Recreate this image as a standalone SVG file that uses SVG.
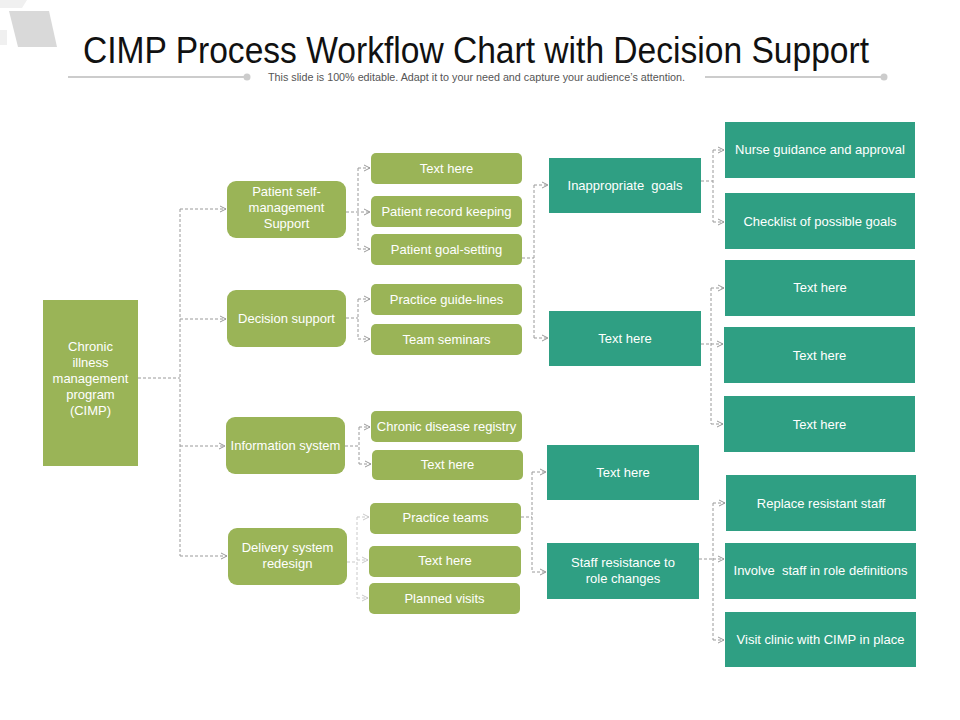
<svg xmlns="http://www.w3.org/2000/svg" width="960" height="720" viewBox="0 0 960 720">
<style>
.g{fill:#9ab457}
.t{fill:#2f9f83}
.lbl{font-family:"Liberation Sans",Arial,sans-serif;font-size:13px;fill:#ffffff;text-anchor:middle}
.c{fill:none;stroke:#9a9a9a;stroke-width:1;stroke-dasharray:3 2}
.cl{fill:none;stroke:#c9c9c9;stroke-width:1;stroke-dasharray:3 2}
.pre{white-space:pre}
</style>
<defs>
<marker id="ar" markerUnits="userSpaceOnUse" markerWidth="8" markerHeight="8" refX="7" refY="4" orient="auto">
<path d="M1,1 L7,4 L1,7" fill="none" stroke="#9a9a9a" stroke-width="1"/>
</marker>
<marker id="arl" markerUnits="userSpaceOnUse" markerWidth="8" markerHeight="8" refX="7" refY="4" orient="auto">
<path d="M1,1 L7,4 L1,7" fill="none" stroke="#c9c9c9" stroke-width="1"/>
</marker>
</defs>
<rect width="960" height="720" fill="#ffffff"/>
<g id="decor">
<polygon points="0,0 27,0 22,8 0,8" fill="#f0f0f0"/>
<polygon points="0,30 7,30 7,45 0,45" fill="#f0f0f0"/>
<polygon points="9,11 49,11 57,47 18,47" fill="#d9d9d9"/>
</g>
<g id="title">
<text x="476" y="63" font-family="'Liberation Sans',Arial,sans-serif" font-size="36" fill="#111111" text-anchor="middle" textLength="786" lengthAdjust="spacingAndGlyphs">CIMP Process Workflow Chart with Decision Support</text>
<line x1="68" y1="77" x2="247" y2="77" stroke="#cccccc" stroke-width="2"/>
<circle cx="247" cy="77" r="3.5" fill="#cccccc"/>
<line x1="705" y1="77" x2="884" y2="77" stroke="#cccccc" stroke-width="2"/>
<circle cx="884" cy="77" r="3.5" fill="#cccccc"/>
<text x="476.5" y="81" font-family="'Liberation Sans',Arial,sans-serif" font-size="10.5" fill="#555555" text-anchor="middle" textLength="417" lengthAdjust="spacingAndGlyphs">This slide is 100% editable. Adapt it to your need and capture your audience’s attention.</text>
</g>
<g id="connectors">
<path class="c" d="M138,378 H180 M180,209 V556"/>
<path class="c" d="M180,209 H226" marker-end="url(#ar)"/>
<path class="c" d="M180,319 H226" marker-end="url(#ar)"/>
<path class="c" d="M180,446 H225" marker-end="url(#ar)"/>
<path class="c" d="M180,556 H227" marker-end="url(#ar)"/>
<path class="c" d="M358,168 V249"/>
<path class="c" d="M358,168 H370" marker-end="url(#ar)"/>
<path class="c" d="M346,212 H370" marker-end="url(#ar)"/>
<path class="c" d="M358,249 H370" marker-end="url(#ar)"/>
<path class="c" d="M346,318 H358 M358,299 V339"/>
<path class="c" d="M358,299 H370" marker-end="url(#ar)"/>
<path class="c" d="M358,339 H370" marker-end="url(#ar)"/>
<path class="c" d="M345,446 H359 M359,427 V464"/>
<path class="c" d="M359,427 H370" marker-end="url(#ar)"/>
<path class="c" d="M359,464 H371" marker-end="url(#ar)"/>
<path class="cl" d="M347,562 H357 M357,517 V598"/>
<path class="cl" d="M357,517 H369" marker-end="url(#arl)"/>
<path class="cl" d="M357,560 H368" marker-end="url(#arl)"/>
<path class="cl" d="M357,598 H368" marker-end="url(#arl)"/>
<path class="c" d="M522,258 H534 M534,185 V338"/>
<path class="c" d="M534,185 H548" marker-end="url(#ar)"/>
<path class="c" d="M534,338 H548" marker-end="url(#ar)"/>
<path class="c" d="M521,517 H532 M532,472 V572"/>
<path class="c" d="M532,472 H546" marker-end="url(#ar)"/>
<path class="c" d="M532,572 H546" marker-end="url(#ar)"/>
<path class="c" d="M701,181 H713 M713,150 V222"/>
<path class="c" d="M713,150 H724" marker-end="url(#ar)"/>
<path class="c" d="M713,222 H724" marker-end="url(#ar)"/>
<path class="c" d="M701,344 H711 M711,288 V424"/>
<path class="c" d="M711,288 H724" marker-end="url(#ar)"/>
<path class="c" d="M711,344 H723" marker-end="url(#ar)"/>
<path class="c" d="M711,424 H723" marker-end="url(#ar)"/>
<path class="c" d="M699,559 H713 M713,503 V640"/>
<path class="c" d="M713,503 H725" marker-end="url(#ar)"/>
<path class="c" d="M713,559 H724" marker-end="url(#ar)"/>
<path class="c" d="M713,640 H724" marker-end="url(#ar)"/>
</g>
<g id="n-root"><rect class="g" x="43" y="300" width="95" height="166"/>
<text class="lbl"><tspan x="90.5" y="351">Chronic</tspan><tspan x="90.5" y="367">illness</tspan><tspan x="90.5" y="383">management</tspan><tspan x="90.5" y="399">program</tspan><tspan x="90.5" y="415">(CIMP)</tspan></text></g>
<g id="n-psms"><rect class="g" x="227" y="181" width="119" height="57" rx="9"/>
<text class="lbl"><tspan x="286.5" y="196">Patient self-</tspan><tspan x="286.5" y="212">management</tspan><tspan x="286.5" y="228">Support</tspan></text></g>
<g id="n-ds"><rect class="g" x="227" y="290" width="119" height="57" rx="9"/>
<text class="lbl" x="286.5" y="323">Decision support</text></g>
<g id="n-is"><rect class="g" x="226" y="417" width="119" height="57" rx="9"/>
<text class="lbl" x="285.5" y="450">Information system</text></g>
<g id="n-dsr"><rect class="g" x="228" y="528" width="119" height="57" rx="9"/>
<text class="lbl"><tspan x="287.5" y="552">Delivery system</tspan><tspan x="287.5" y="568">redesign</tspan></text></g>
<g id="n-a1"><rect class="g" x="371" y="153" width="151" height="31" rx="5"/><text class="lbl" x="446.5" y="173">Text here</text></g>
<g id="n-a2"><rect class="g" x="371" y="196" width="151" height="31" rx="5"/><text class="lbl" x="446.5" y="216">Patient record keeping</text></g>
<g id="n-a3"><rect class="g" x="371" y="234" width="151" height="31" rx="5"/><text class="lbl" x="446.5" y="254">Patient goal-setting</text></g>
<g id="n-b1"><rect class="g" x="371" y="284" width="151" height="31" rx="5"/><text class="lbl" x="446.5" y="304">Practice guide-lines</text></g>
<g id="n-b2"><rect class="g" x="371" y="324" width="151" height="31" rx="5"/><text class="lbl" x="446.5" y="344">Team seminars</text></g>
<g id="n-c1"><rect class="g" x="371" y="411" width="151" height="31" rx="5"/><text class="lbl" x="446.5" y="431">Chronic disease registry</text></g>
<g id="n-c2"><rect class="g" x="372" y="450" width="151" height="30" rx="5"/><text class="lbl" x="447.5" y="469">Text here</text></g>
<g id="n-d1"><rect class="g" x="370" y="503" width="151" height="31" rx="5"/><text class="lbl" x="445.5" y="522">Practice teams</text></g>
<g id="n-d2"><rect class="g" x="369" y="546" width="152" height="31" rx="5"/><text class="lbl" x="445" y="565">Text here</text></g>
<g id="n-d3"><rect class="g" x="369" y="583" width="151" height="31" rx="5"/><text class="lbl" x="444.5" y="603">Planned visits</text></g>
<g id="n-e1"><rect class="t" x="549" y="158" width="152" height="55"/><text class="lbl pre" x="625" y="190">Inappropriate  goals</text></g>
<g id="n-e2"><rect class="t" x="549" y="311" width="152" height="55"/><text class="lbl" x="625" y="343">Text here</text></g>
<g id="n-e3"><rect class="t" x="547" y="445" width="152" height="55"/><text class="lbl" x="623" y="477">Text here</text></g>
<g id="n-e4"><rect class="t" x="547" y="543" width="152" height="56"/>
<text class="lbl"><tspan x="623" y="567">Staff resistance to</tspan><tspan x="623" y="583">role changes</tspan></text></g>
<g id="n-f1"><rect class="t" x="725" y="122" width="190" height="56"/><text class="lbl" x="820" y="154">Nurse guidance and approval</text></g>
<g id="n-f2"><rect class="t" x="725" y="193" width="190" height="56"/><text class="lbl" x="820" y="226">Checklist of possible goals</text></g>
<g id="n-f3"><rect class="t" x="725" y="260" width="190" height="56"/><text class="lbl" x="820" y="292">Text here</text></g>
<g id="n-f4"><rect class="t" x="724" y="327" width="191" height="56"/><text class="lbl" x="819.5" y="360">Text here</text></g>
<g id="n-f5"><rect class="t" x="724" y="396" width="191" height="56"/><text class="lbl" x="819.5" y="429">Text here</text></g>
<g id="n-g1"><rect class="t" x="726" y="475" width="190" height="56"/><text class="lbl" x="821" y="508">Replace resistant staff</text></g>
<g id="n-g2"><rect class="t" x="725" y="543" width="191" height="56"/><text class="lbl pre" x="820.5" y="575">Involve  staff in role definitions</text></g>
<g id="n-g3"><rect class="t" x="725" y="612" width="191" height="55"/><text class="lbl" x="820.5" y="644">Visit clinic with CIMP in place</text></g>
</svg>
